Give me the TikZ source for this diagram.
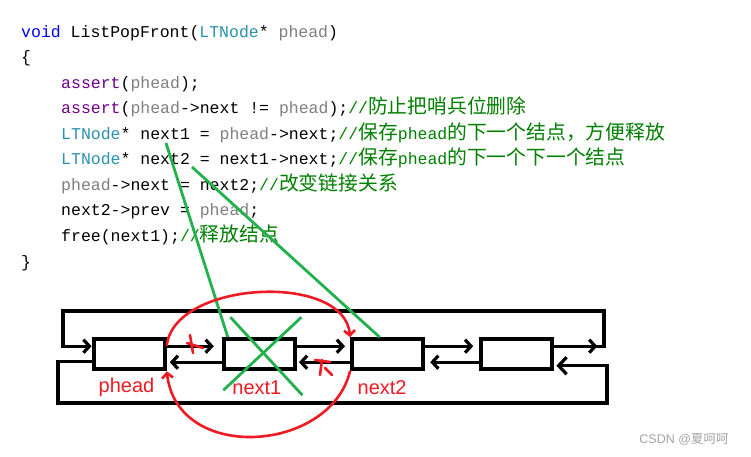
\documentclass[tikz,border=0pt]{standalone}
\usepackage{fontspec}
\setmainfont{Liberation Sans}
\setsansfont{Liberation Sans}
\setmonofont{Liberation Mono}
\newfontfamily\cjk[Scale=1.2]{Noto Sans CJK SC}
\newfontfamily\cjksans{Noto Sans CJK SC}
\usepackage{tikz}
\usetikzlibrary{arrows.meta, positioning, calc, decorations.markings}
\definecolor{kwblue}{RGB}{0,0,255}
\definecolor{tyteal}{RGB}{43,145,175}
\definecolor{prgray}{RGB}{128,128,128}
\definecolor{fnpurple}{RGB}{111,0,138}
\definecolor{cmgreen}{RGB}{0,128,0}
\definecolor{penred}{RGB}{237,28,36}
\definecolor{pengreen}{RGB}{34,177,76}
\definecolor{wmgray}{RGB}{165,165,165}
\newcommand{\kwd}[1]{\textcolor{kwblue}{#1}}
\newcommand{\typ}[1]{\textcolor{tyteal}{#1}}
\newcommand{\prm}[1]{\textcolor{prgray}{#1}}
\newcommand{\fnc}[1]{\textcolor{fnpurple}{#1}}
\newcommand{\cmt}[1]{\textcolor{cmgreen}{#1}}
\tikzset{
  codeline/.style={anchor=base west, inner sep=0pt,
    font=\ttfamily\fontsize{16.5}{20}\selectfont},
  listbox/.style={rectangle, draw=black, line width=4.2pt,
    minimum width=71pt, minimum height=30pt, inner sep=0pt},
  ptr/.style={-{Straight Barb[length=6pt,width=13pt]}, line width=3.2pt},
  redlbl/.style={text=penred, inner sep=0pt,
    font=\sffamily\fontsize{20}{23}\selectfont},
  redpen/.style={penred, line width=2.6pt, line cap=round},
  greenpen/.style={pengreen, line width=2.8pt}
}

\begin{document}
\begin{tikzpicture}[x=1pt, y=-1pt]
  \fill[white] (0,0) rectangle (751,456);
  \useasboundingbox (0,0) rectangle (751,456);

  % code
  \node[codeline] (l1) at (21,37) {\kwd{void} ListPopFront(\typ{LTNode}* \prm{phead})};
  \node[codeline] (l2) at (21,62.6) {\{};
  \node[codeline] (l3) at (61,88.1) {\fnc{assert}(\prm{phead});};
  \node[codeline] (l4) at (61,113.7) {\fnc{assert}(\prm{phead}->next != \prm{phead});\cmt{//{\cjk 防止把哨兵位删除}}};
  \node[codeline] (l5) at (61,139.2) {\typ{LTNode}* next1 = \prm{phead}->next;\cmt{//{\cjk 保存}phead{\cjk 的下一个结点，方便释放}}};
  \node[codeline] (l6) at (61,164.8) {\typ{LTNode}* next2 = next1->next;\cmt{//{\cjk 保存}phead{\cjk 的下一个下一个结点}}};
  \node[codeline] (l7) at (61,190.3) {\prm{phead}->next = next2;\cmt{//{\cjk 改变链接关系}}};
  \node[codeline] (l8) at (61,215.9) {next2->prev = \prm{phead};};
  \node[codeline] (l9) at (61,241.4) {free(next1);\cmt{//{\cjk 释放结点}}};
  \node[codeline] (l10) at (21,267) {\}};

  % list
  \node[listbox] (n1) at (129.2,354.2) {};
  \node[listbox, right=55pt of n1] (n2) {};
  \node[listbox, right=53pt of n2] (n3) {};
  \node[listbox, right=54pt of n3] (n4) {};

  \draw[ptr, shorten >=8pt] ([yshift=8pt]n1.east) -- ([yshift=8pt]n2.west);
  \draw[ptr, shorten >=5pt] ([yshift=8pt]n2.east) -- ([yshift=8pt]n3.west);
  \draw[ptr, shorten >=6pt] ([yshift=8pt]n3.east) -- ([yshift=8pt]n4.west);
  \draw[ptr, shorten >=3pt] ([yshift=-8pt]n2.west) -- ([yshift=-8pt]n1.east);
  \draw[ptr, shorten >=2pt] ([yshift=-8pt]n3.west) -- ([yshift=-8pt]n2.east);
  \draw[ptr, shorten >=5pt] ([yshift=-8pt]n4.west) -- ([yshift=-8pt]n3.east);

  \coordinate (tr) at (604,311);
  \coordinate (tl) at (63,311);
  \coordinate (bl) at (58,403);
  \coordinate (br) at (607,403);
  \draw[ptr, postaction={decorate}, decoration={markings,
      mark=at position 43pt with {\arrow{Straight Barb[length=6pt,width=13pt]}}}]
    ([yshift=8pt]n4.east) -| (tr) -- (tl) |- ([yshift=8pt]n1.west);
  \draw[ptr, -{Straight Barb[length=8pt,width=17pt]}, shorten >=2pt]
    ([yshift=-7pt]n1.west) -| (bl) -- (br) |- ([yshift=-11.5pt]n4.east);

  \node[redlbl, below=6pt of n1, xshift=-2.7pt] (lp) {phead};
  \node[redlbl, below=9pt of n2, xshift=-2.5pt] (ln1) {next1};
  \node[redlbl, below=9pt of n3, xshift=-5.5pt] (ln2) {next2};

  % green marks
  \coordinate (c1) at (166,143);
  \coordinate (c2) at (192,167);
  \draw[greenpen] (c1) -- ([xshift=6pt]n2.north west);
  \draw[greenpen] (c2) -- ([xshift=-8pt]n3.north);
  \draw[greenpen] ($(n2)+(-29,-37)$) -- ($(n2)+(43,41)$);
  \draw[greenpen] ($(n2)+(-36,36)$) -- ($(n2)+(42,-37)$);

  % red marks
  \draw[redpen, -{Straight Barb[length=5pt,width=11pt]}]
    ([yshift=9pt]n1.east) .. controls +(8,-65) and +(-5,-65) .. (n3.north west);
  \draw[redpen, -{Straight Barb[length=5pt,width=11pt]}]
    (n3.south west) .. controls +(-20,82) and +(10,92) .. (n1.south east);
  \draw[redpen] (190,335) -- (193,353) (187,343) -- (203,348);
  \draw[redpen] (315,360) -- (330,362) (322,360) -- (320,375) (325,368) -- (332,375);

  \node[font=\sffamily\fontsize{12.5}{14}\selectfont, text=wmgray, inner sep=0pt]
    (wm) at (684,439) {CSDN @{\cjksans 夏呵呵}};
\end{tikzpicture}
\end{document}
